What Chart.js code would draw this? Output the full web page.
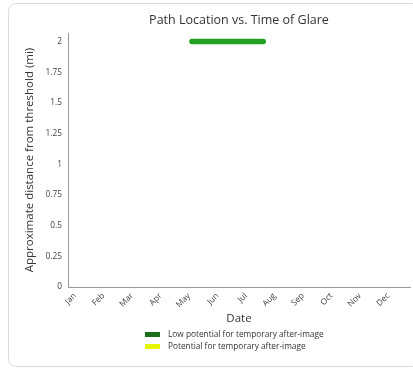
<!DOCTYPE html>
<html>
<head>
<meta charset="utf-8">
<script src="https://cdn.jsdelivr.net/npm/chart.js@4.4.0/dist/chart.umd.min.js"></script>
<style>
  html, body { margin: 0; padding: 0; background: #fff; }
  #wrap { position: relative; width: 413px; height: 370px; overflow: hidden; font-family: "Open Sans", sans-serif; }
  #card { position: absolute; left: 8px; top: 3px; width: 412px; height: 364px; border: 1px solid #dcdcdc; border-radius: 8px; box-sizing: border-box; }
  #grafico { position: absolute; left: 0; top: 0; }
  #leyenda { position: absolute; left: 145px; top: 328px; font-size: 8.3px; color: #333; line-height: 12px; }
  #leyenda .item { display: flex; align-items: center; white-space: nowrap; }
  #leyenda .caja { display: inline-block; width: 15px; height: 5px; margin-right: 8px; }
</style>
</head>
<body>
<div id="wrap">
  <div id="card"></div>
  <canvas id="grafico" width="413" height="370"></canvas>
  <div id="leyenda"></div>
</div>
<script>
// Meses (eje x: 0 = inicio de enero)
const meses = ["Jan", "Feb", "Mar", "Apr", "May", "Jun", "Jul", "Aug", "Sep", "Oct", "Nov", "Dec"];

// Ticks eje y
const ticksY = [0, 0.25, 0.5, 0.75, 1, 1.25, 1.5, 1.75, 2];

// Series
const seriesNombres = ["Low potential for temporary after-image", "Potential for temporary after-image"];
const seriesLeyendaColores = ["#1c6e1c", "#e6f500"];

// Resplandor bajo potencial: fecha (mes decimal) y distancia (mi)
const bajoFecha = [4.35, 5.0, 5.6, 6.2, 6.85];
const bajoDistancia = [2, 2, 2, 2, 2];

// Potencial (sin datos)
const potFecha = [];
const potDistancia = [];

const aPuntos = (xs, ys) => xs.map((x, i) => ({ x, y: ys[i] }));

const ctx = document.getElementById("grafico").getContext("2d");

const chart = new Chart(ctx, {
  type: "line",
  data: {
    datasets: [
      {
        label: seriesNombres[0],
        data: aPuntos(bajoFecha, bajoDistancia),
        borderColor: "#21a021",
        borderWidth: 5.5,
        borderCapStyle: "round",
        pointRadius: 0,
        fill: false
      },
      {
        label: seriesNombres[1],
        data: aPuntos(potFecha, potDistancia),
        borderColor: "#e6f500",
        borderWidth: 5,
        pointRadius: 0,
        fill: false
      }
    ]
  },
  options: {
    responsive: false,
    animation: false,
    layout: { padding: { left: 8, right: 3, top: 0, bottom: 43 } },
    plugins: {
      legend: { display: false },
      tooltip: { enabled: false },
      title: {
        display: true,
        text: "Path Location vs. Time of Glare",
        fullSize: false,
        color: "#333",
        font: { family: "Open Sans", size: 12.5, weight: "normal" },
        padding: { top: 13, bottom: 5 }
      }
    },
    scales: {
      x: {
        type: "linear",
        min: 0,
        max: 12,
        afterBuildTicks: s => { s.ticks = meses.map((m, i) => ({ value: i })); },
        afterFit: s => { s.height = 40; },
        grid: { display: false, drawTicks: true, tickLength: 3, color: "#999" },
        border: { color: "#999" },
        ticks: {
          color: "#444",
          font: { family: "Open Sans", size: 8.3 },
          minRotation: 45,
          maxRotation: 45,
          labelOffset: 7,
          padding: 1,
          callback: v => meses[v] || ""
        },
        title: {
          display: true,
          text: "Date",
          color: "#333",
          font: { family: "Open Sans", size: 11.5 },
          padding: { top: 0, bottom: 1 }
        }
      },
      y: {
        min: 0,
        max: 2.07,
        afterBuildTicks: s => { s.ticks = ticksY.map(v => ({ value: v })); },
        afterFit: s => { s.width = 60; },
        grid: { display: false, drawTicks: true, tickLength: 3, color: "#999" },
        border: { color: "#999" },
        ticks: {
          color: "#444",
          font: { family: "Open Sans", size: 8.3 },
          padding: 3,
          callback: v => String(v)
        },
        title: {
          display: true,
          text: "Approximate distance from threshold (mi)",
          color: "#333",
          font: { family: "Open Sans", size: 11.5 },
          padding: { top: 15, bottom: 6 }
        }
      }
    }
  }
});

// Leyenda
const leyenda = document.getElementById("leyenda");
chart.data.datasets.forEach((d, i) => {
  const div = document.createElement("div");
  div.className = "item";
  div.innerHTML = `<span class="caja" style="background:${seriesLeyendaColores[i]}"></span>${d.label}`;
  leyenda.appendChild(div);
});
</script>
</body>
</html>
